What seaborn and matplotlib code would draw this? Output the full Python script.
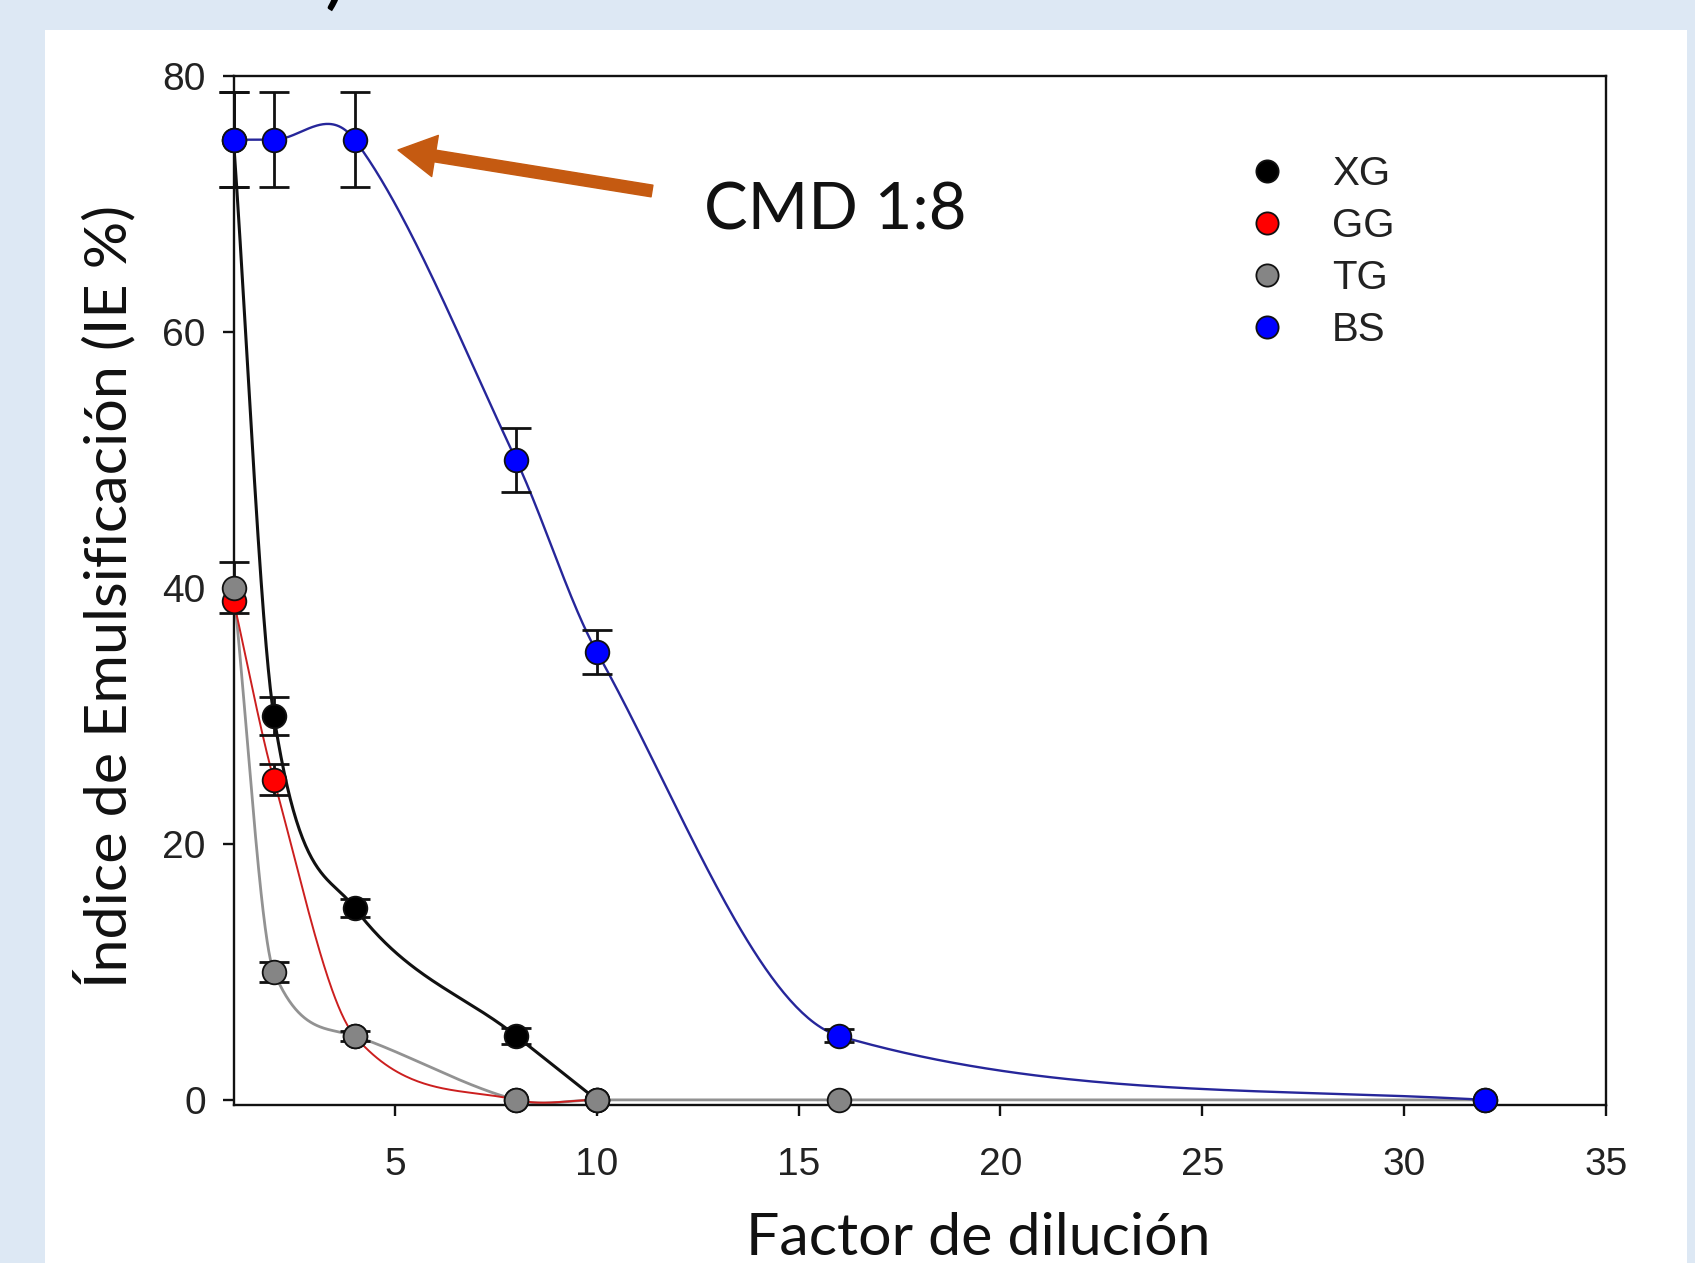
import numpy as np
import pandas as pd
import matplotlib
matplotlib.use("Agg")
import matplotlib.pyplot as plt
import seaborn as sns
from matplotlib.lines import Line2D
from matplotlib.patches import Rectangle, ArrowStyle

# ---------------- data ----------------
xg_x = [1, 2, 4, 8, 10]
xg_y = [75, 30, 15, 5, 0]
xg_err = [3.7, 1.5, 0.7, 0.6, 0.0]

gg_x = [1, 2, 4, 8, 10]
gg_y = [39, 25, 5, 0, 0]
gg_err = [0.0, 1.2, 0.0, 0.0, 0.0]

tg_x = [1, 2, 4, 8, 10, 16, 32]
tg_y = [40, 10, 5, 0, 0, 0, 0]
tg_err = [2.0, 0.8, 0.4, 0.0, 0.0, 0.0, 0.0]

bs_x = [1, 2, 4, 8, 10, 16, 32]
bs_y = [75, 75, 75, 50, 35, 5, 0]
bs_err = [3.7, 3.7, 3.7, 2.5, 1.7, 0.5, 0.0]

series_names = ["XG", "GG", "TG", "BS"]
x_ticks = [5, 10, 15, 20, 25, 30, 35]
y_ticks = [0, 20, 40, 60, 80]

W, H = 1695, 1263
sns.set_theme(style="white")
plt.rcParams["font.family"] = ["Liberation Sans", "DejaVu Sans"]

fig = plt.figure(figsize=(W / 100, H / 100), dpi=100)
fig.patch.set_facecolor("#dde8f4")
fig.add_artist(Rectangle((45 / W, 0), 1642 / W, (H - 30) / H,
                         transform=fig.transFigure, facecolor="white",
                         edgecolor="none", zorder=0))

L, R, T, B = 233.5, 1606, 75.7, 1105
ax = fig.add_axes([L / W, 1 - B / H, (R - L) / W, (B - T) / H])
ax.set_facecolor("white")


def smooth(xs, ys, n=80):
    """Hermite spline through the data points (drawing helper)."""
    xs = np.asarray(xs, float)
    ys = np.asarray(ys, float)
    d = np.diff(ys) / np.diff(xs)
    m = np.empty_like(ys)
    m[1:-1] = (ys[2:] - ys[:-2]) / (xs[2:] - xs[:-2])
    m[0] = d[0]
    m[-1] = d[-1]
    for i, di in enumerate(d):
        if di != 0:
            a, b = m[i] / di, m[i + 1] / di
            s = a * a + b * b
            if s > 9:
                tau = 3 / np.sqrt(s)
                m[i] = tau * a * di
                m[i + 1] = tau * b * di
    X, Y = [], []
    t = np.linspace(0, 1, n)
    h00 = 2 * t**3 - 3 * t**2 + 1
    h10 = t**3 - 2 * t**2 + t
    h01 = -2 * t**3 + 3 * t**2
    h11 = t**3 - t**2
    for i in range(len(xs) - 1):
        h = xs[i + 1] - xs[i]
        X.append(xs[i] + t * h)
        Y.append(h00 * ys[i] + h10 * h * m[i] + h01 * ys[i + 1] + h11 * h * m[i + 1])
    return np.concatenate(X), np.concatenate(Y)


# lines
line_specs = [
    (tg_x, tg_y, "#929292", 2.0, 2),
    (gg_x, gg_y, "#cc1f1f", 1.4, 3),
    (xg_x, xg_y, "#111111", 2.2, 4),
    (bs_x, bs_y, "#26269a", 1.7, 5),
]
for xs, ys, c, lw, z in line_specs:
    sx, sy = smooth(xs, ys)
    sns.lineplot(x=sx, y=sy, ax=ax, color=c, linewidth=lw, sort=False,
                 estimator=None, zorder=z)

# error bars
for xs, ys, es in [(xg_x, xg_y, xg_err), (gg_x, gg_y, gg_err),
                   (tg_x, tg_y, tg_err), (bs_x, bs_y, bs_err)]:
    xe = [a for a, e in zip(xs, es) if e > 0]
    ye = [b for b, e in zip(ys, es) if e > 0]
    ee = [e for e in es if e > 0]
    eb = ax.errorbar(xe, ye, yerr=ee, fmt="none", ecolor="#111111",
                     elinewidth=2.0, capsize=11, capthick=2.0, zorder=6)
    for art in list(eb.lines[1]) + list(eb.lines[2]):
        art.set_clip_on(False)

# markers
mk = [(xg_x, xg_y, "#000000"), (gg_x, gg_y, "#ff0000"),
      (tg_x, tg_y, "#858585"), (bs_x, bs_y, "#0000ff")]
for xs, ys, c in mk:
    sns.scatterplot(x=xs, y=ys, ax=ax, color=c, s=290, edgecolor="#111111",
                    linewidth=1.3, zorder=8, clip_on=False, legend=False)

ax.set_xlim(1, 35)
ax.set_ylim(-0.4, 80)
ax.set_xticks(x_ticks)
ax.set_yticks(y_ticks)
ax.set_xticklabels([str(v) for v in x_ticks])
ax.set_yticklabels([str(v) for v in y_ticks])
for s in ax.spines.values():
    s.set_visible(True)
    s.set_color("#111111")
    s.set_linewidth(1.7)
ax.tick_params(axis="both", which="major", direction="out", length=8,
               width=1.7, color="#111111", labelsize=28, labelcolor="#222222",
               bottom=True, left=True, top=False, right=False)
ax.tick_params(axis="y", pad=12)
ax.tick_params(axis="x", pad=22)

# legend
handles = [Line2D([], [], marker="o", linestyle="none", markersize=16,
                  markerfacecolor=c, markeredgecolor="#111111",
                  markeredgewidth=1.3) for c in ["#000000", "#ff0000", "#858585", "#0000ff"]]
leg = ax.legend(handles, series_names, loc="upper left",
                bbox_to_anchor=((1227 - L) / (R - L), (B - 155) / (B - T)),
                frameon=False, fontsize=29, handlelength=2.0,
                handletextpad=0.6, labelspacing=0.35, borderpad=0,
                borderaxespad=0)
for t in leg.get_texts():
    t.set_color("#222222")

# axis labels (Calibri-like)
lab_font = ["Lato", "DejaVu Sans"]
fig.text(978 / W, 1 - 1255 / H, "Factor de dilución", ha="center",
         va="baseline", fontsize=42.5, family=lab_font, color="#111111")
fig.text(105 / W, 1 - 596 / H, "Índice de Emulsificación (IE %)",
         ha="center", va="center", rotation=90, fontsize=42.7,
         family=lab_font, color="#111111")

# annotation
fig.text(704 / W, 1 - 229 / H, "CMD 1:8", ha="left", va="baseline",
         fontsize=47, family=lab_font, color="#111111")
ax.annotate("", xy=(398, H - 150), xytext=(652, H - 191),
            xycoords="figure pixels", textcoords="figure pixels",
            arrowprops=dict(arrowstyle=ArrowStyle.Simple(head_length=27,
                                                         head_width=30,
                                                         tail_width=8.5),
                            mutation_scale=1, color="#c55a11",
                            shrinkA=0, shrinkB=0))

# fragment of a heading cut off at the top edge
fig.text(336 / W, 1.0, ")", ha="center", va="baseline", fontsize=60,
         family=lab_font, color="#000000")

fig.savefig("out.png", dpi=100, facecolor=fig.get_facecolor())
